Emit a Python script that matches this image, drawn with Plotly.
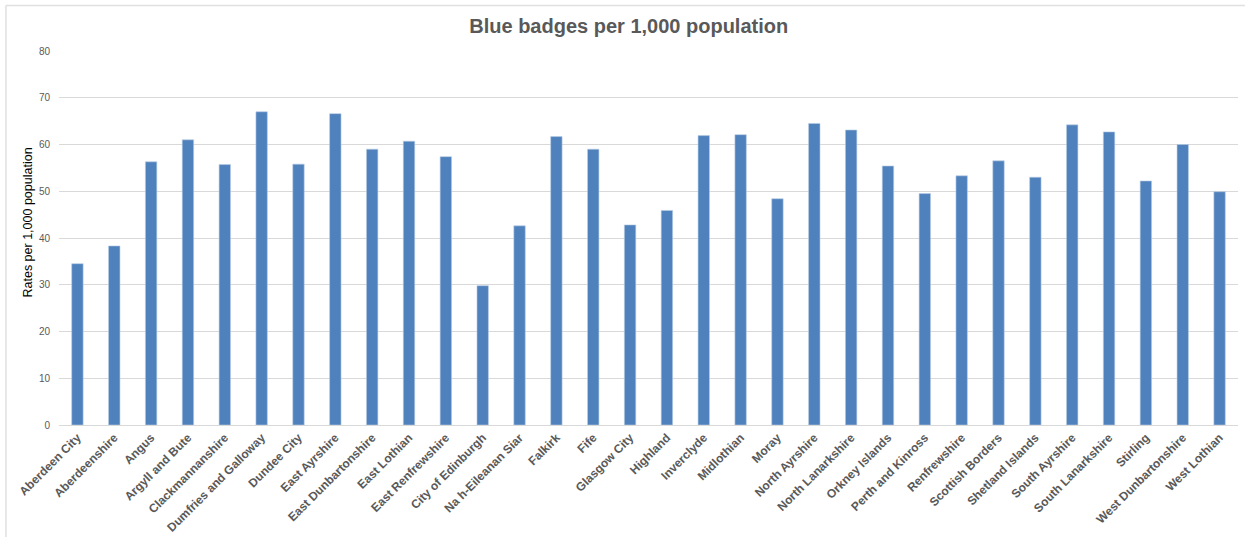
import plotly.graph_objects as go

councils = ["Aberdeen City", "Aberdeenshire", "Angus", "Argyll and Bute", "Clackmannanshire",
            "Dumfries and Galloway", "Dundee City", "East Ayrshire", "East Dunbartonshire",
            "East Lothian", "East Renfrewshire", "City of Edinburgh", "Na h-Eileanan Siar",
            "Falkirk", "Fife", "Glasgow City", "Highland", "Inverclyde", "Midlothian", "Moray",
            "North Ayrshire", "North Lanarkshire", "Orkney Islands", "Perth and Kinross",
            "Renfrewshire", "Scottish Borders", "Shetland Islands", "South Ayrshire",
            "South Lanarkshire", "Stirling", "West Dunbartonshire", "West Lothian"]
rates = [34.5, 38.3, 56.3, 61.0, 55.7, 67.0, 55.8, 66.6, 59.0, 60.7, 57.4, 29.8, 42.6,
         61.7, 59.0, 42.8, 45.9, 61.9, 62.1, 48.4, 64.5, 63.1, 55.4, 49.5, 53.3, 56.5,
         53.0, 64.2, 62.7, 52.2, 60.0, 49.9]
y_ticks = [0, 10, 20, 30, 40, 50, 60, 70, 80]

fig = go.Figure(go.Bar(
    x=councils, y=rates,
    marker=dict(color="#4f81bd", line=dict(color="#b8cce4", width=0.6)),
))

border = dict(color="#e0e0e0", width=1.5)
fig.update_layout(
    width=1245, height=537,
    margin=dict(l=59, r=7, t=51, b=112),
    paper_bgcolor="white", plot_bgcolor="white",
    bargap=0.69,
    showlegend=False,
    title=dict(text="<b>Blue badges per 1,000 population</b>", x=0.505, xanchor="center",
               y=0.952, yanchor="middle",
               font=dict(family="Liberation Sans, Arial", size=20, color="#595959")),
    font=dict(family="Liberation Sans, Arial", color="#595959"),
    shapes=[
        dict(type="line", xref="paper", yref="paper", x0=-0.045, x1=-0.045,
             y0=-0.4, y1=1.1217, line=border, layer="below"),
        dict(type="line", xref="paper", yref="paper", x0=-0.045, x1=1.02,
             y0=1.1217, y1=1.1217, line=border, layer="below"),
    ],
    annotations=[dict(text="Rates per 1,000 population", textangle=-90,
                      xref="paper", yref="paper", x=-0.0263, y=0.5414,
                      xanchor="center", yanchor="middle", showarrow=False,
                      font=dict(size=12.5, color="#000000"))],
)

fig.update_xaxes(
    tickangle=-45, tickfont=dict(size=12, color="#595959", family="Liberation Sans, Arial"),
    showgrid=False, showline=True, linecolor="#d9d9d9", linewidth=1,
    ticks="", tickprefix="<b>", ticksuffix="</b>", automargin=False,
)
fig.update_yaxes(
    range=[0, 80], tickvals=y_ticks, showgrid=True, gridcolor="#d9d9d9", gridwidth=1,
    zeroline=False, showline=False, automargin=False,
    tickfont=dict(size=10, color="#595959"), ticklabelstandoff=8,
)

fig.write_html("out.html", config={"displayModeBar": False},
               post_script="document.body.style.margin='0';document.body.style.overflow='hidden';")
